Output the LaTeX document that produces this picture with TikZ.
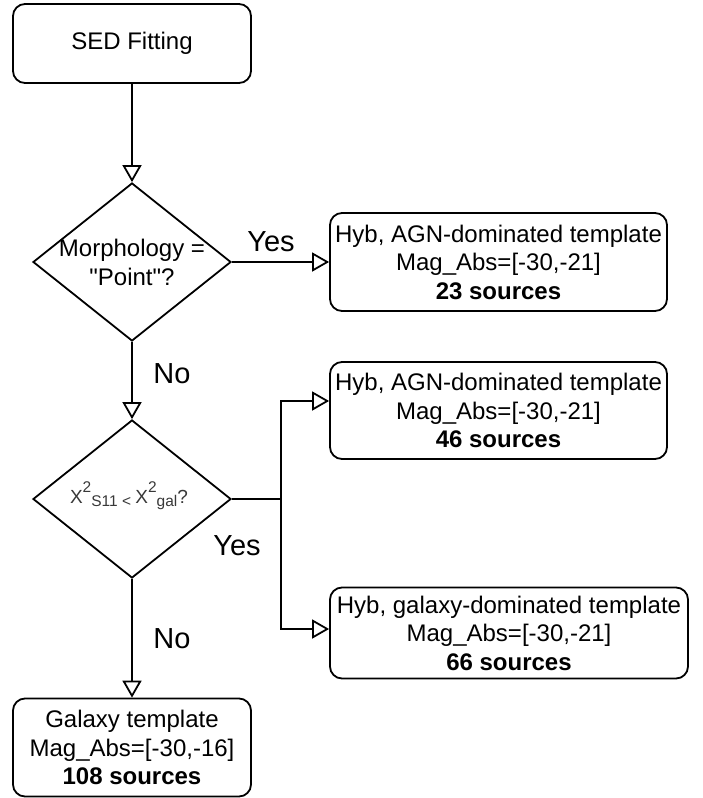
\documentclass[tikz,border=0pt]{standalone}
\usepackage{fontspec}
\setmainfont{Liberation Sans}[Ligatures=TeXOff]
\usetikzlibrary{shapes.geometric,arrows.meta}
\newcommand{\chisup}[1]{\raisebox{10.5pt}{\fontsize{15.5}{15.5}\selectfont #1}}
\newcommand{\chisub}[1]{\raisebox{-3pt}{\fontsize{15.5}{15.5}\selectfont #1}}
\begin{document}
\begin{tikzpicture}[x=1pt,y=-1pt,
  lw/.style={line width=1.8pt},
  box/.style={draw, lw, rounded corners=12pt, align=center, inner sep=0pt,
    font=\fontsize{24}{28.5}\selectfont},
  dia/.style={draw, lw, diamond, inner sep=0pt, minimum width=198pt, minimum height=158pt},
  diatext/.style={align=center, inner sep=0pt, font=\fontsize{24}{29}\selectfont},
  lbl/.style={inner sep=0pt, font=\fontsize{29}{29}\selectfont},
  conn/.style={lw},
  arr/.style={lw, -{Triangle[open, length=17pt, width=19pt]}}
]
\useasboundingbox (0,0) rectangle (703,798);

% nodes
\node[box, minimum width=238pt, minimum height=79pt] (sed) at (132,43.5) {SED Fitting};
\node[dia] (d1) at (132,262) {};
\node[diatext] (d1t) at (132,262) {Morphology =\\"Point"?};
\node[box, minimum width=337pt, minimum height=98pt] (b2) at (498.5,262)
  {Hyb, AGN-dominated template\\Mag\_Abs=[-30,-21]\\\textbf{23 sources}};
\node[dia] (d2) at (132,499) {};
\node[inner sep=0pt, anchor=base, text=black!78] (d2t) at (129,503)
  {\fontsize{19}{21}\selectfont Χ\chisup{2}\chisub{S11 <\ }Χ\chisup{2}\chisub{gal}?};
\node[box, minimum width=337pt, minimum height=97pt] (b3) at (498.5,410.5)
  {Hyb, AGN-dominated template\\Mag\_Abs=[-30,-21]\\\textbf{46 sources}};
\node[box, minimum width=358pt, minimum height=91pt] (b4) at (509,633)
  {Hyb, galaxy-dominated template\\Mag\_Abs=[-30,-21]\\\textbf{66 sources}};
\node[box, minimum width=238pt, minimum height=98pt] (b5) at (132,747.5)
  {Galaxy template\\Mag\_Abs=[-30,-16]\\\textbf{108 sources}};

% labels
\node[lbl] (yes1) at (271,242) {Yes};
\node[lbl] (no1) at (172,374) {No};
\node[lbl] (yes2) at (237,546) {Yes};
\node[lbl] (no2) at (172,639) {No};

% connectors
\draw[arr] (sed.south) -- (d1.north);
\draw[arr] (d1.east) -- (b2.west);
\draw[arr] (d1.south) -- (d2.north);
\draw[arr] (d2.south) -- (b5.north);
\coordinate (j) at (281,499);
\draw[conn] (d2.east) -- (j);
\draw[arr] (j) |- ([yshift=9.5pt]b3.west);
\draw[arr] (j) |- ([yshift=4pt]b4.west);
\end{tikzpicture}
\end{document}
